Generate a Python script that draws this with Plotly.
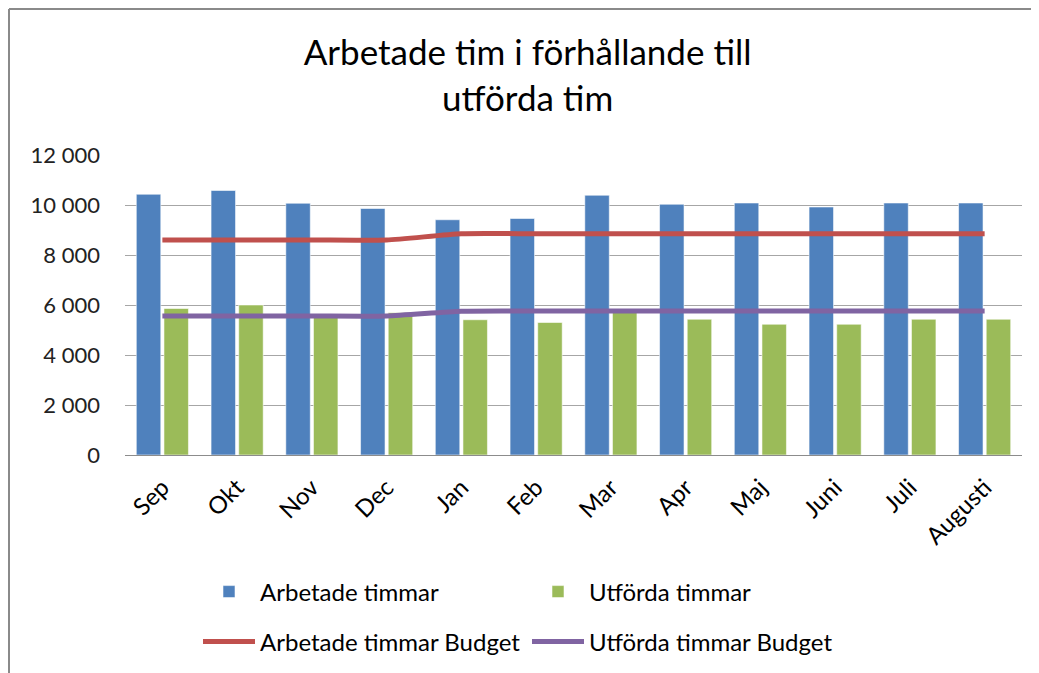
import plotly.graph_objects as go

months = ["Sep", "Okt", "Nov", "Dec", "Jan", "Feb", "Mar", "Apr", "Maj", "Juni", "Juli", "Augusti"]
arbetade = [10430, 10580, 10070, 9860, 9410, 9460, 10390, 10030, 10080, 9920, 10080, 10080]
utforda = [5860, 6000, 5560, 5690, 5410, 5300, 5700, 5430, 5230, 5230, 5430, 5430]
arbetade_budget = [8600, 8600, 8600, 8600, 8850, 8850, 8850, 8850, 8850, 8850, 8850, 8850]
utforda_budget = [5560, 5560, 5560, 5560, 5750, 5760, 5760, 5760, 5760, 5760, 5760, 5760]
y_ticks = [0, 2000, 4000, 6000, 8000, 10000, 12000]

FONT = "Lato"
BLUE = "#4F81BD"
GREEN = "#9BBB59"
RED = "#C0504D"
PURPLE = "#8064A2"

W, H = 1031, 665  # page is offset by the 8px body margin
L, R, T, B = 117, 17, 147, 218
PW, PH = W - L - R, H - T - B

fig = go.Figure()
fig.add_trace(go.Bar(x=months, y=arbetade, name="Arbetade timmar",
                     marker=dict(color=BLUE, line=dict(color="rgba(255,255,255,0.55)", width=1)),
                     legend="legend"))
fig.add_trace(go.Bar(x=months, y=utforda, name="Utförda timmar",
                     marker=dict(color=GREEN, line=dict(color="rgba(255,255,255,0.55)", width=1)),
                     legend="legend"))
fig.add_trace(go.Scatter(x=months, y=arbetade_budget, name="Arbetade timmar Budget",
                         mode="lines", line=dict(color=RED, width=5, shape="spline", smoothing=0.6),
                         legend="legend2"))
fig.add_trace(go.Scatter(x=months, y=utforda_budget, name="Utförda timmar Budget",
                         mode="lines", line=dict(color=PURPLE, width=5, shape="spline", smoothing=0.6),
                         legend="legend2"))

legend_common = dict(orientation="h", xanchor="left", yanchor="middle",
                     itemwidth=52, entrywidth=262,
                     font=dict(family=FONT, size=24, color="#000000"),
                     traceorder="normal", bgcolor="rgba(0,0,0,0)")

frame = dict(color="#8a8a8a", width=2)

fig.update_layout(
    width=W, height=H,
    margin=dict(l=L, r=R, t=T, b=B, autoexpand=False),
    paper_bgcolor="white", plot_bgcolor="white",
    separators=", ",
    font=dict(family=FONT, color="#000000"),
    title=dict(text="Arbetade tim i förhållande till<br>utförda tim",
               x=0.504, xref="container", xanchor="center",
               y=1 - 57 / H, yref="container", yanchor="top",
               font=dict(family=FONT, size=35, color="#000000")),
    barmode="group", bargap=0.26, bargroupgap=0.115,
    xaxis=dict(type="category", tickangle=-45, showline=True, linecolor="#8c8c8c", linewidth=1,
               showgrid=False, ticks="", ticklabelstandoff=8,
               tickfont=dict(family=FONT, size=24, color="#000000")),
    yaxis=dict(range=[0, 12000], tickvals=y_ticks, tickformat=",d", showgrid=True,
               gridcolor="#a6a6a6", gridwidth=1, zeroline=False, showline=False, ticks="",
               ticklabelstandoff=24, tickfont=dict(family=FONT, size=22, color="#222222")),
    legend=dict(x=(190 - L) / PW, y=-(584 - T - PH) / PH, **legend_common),
    legend2=dict(x=(190 - L) / PW, y=-(634 - T - PH) / PH, **legend_common),
    shapes=[
        dict(type="line", xref="paper", yref="paper",
             x0=(1 - L) / PW, x1=(1 - L) / PW,
             y0=-(H + 20 - T - PH) / PH, y1=1 + (T - 1) / PH, line=frame, layer="below"),
        dict(type="line", xref="paper", yref="paper",
             x0=(1 - L) / PW, x1=(W + 20 - L) / PW,
             y0=1 + (T - 1) / PH, y1=1 + (T - 1) / PH, line=frame, layer="below"),
    ],
)

fig.write_html("out.html")
